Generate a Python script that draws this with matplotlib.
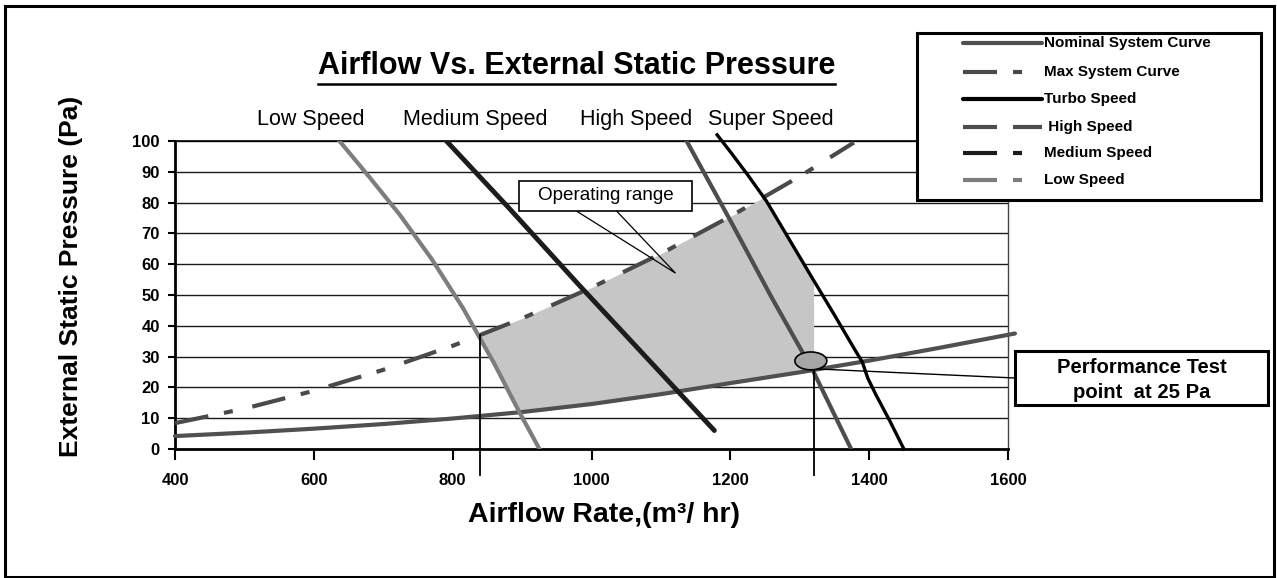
import numpy as np
import matplotlib
matplotlib.use("Agg")
import matplotlib.pyplot as plt
from matplotlib.lines import Line2D
from matplotlib.patches import Rectangle, Ellipse, Polygon

plt.rcParams['font.family'] = ['Liberation Sans', 'DejaVu Sans']
plt.rcParams['lines.scale_dashes'] = False

# fan / system curves: airflow (m3/hr) vs external static pressure (Pa)
nominal_q = [400, 500, 600, 700, 800, 900, 1000, 1100, 1200, 1300, 1400, 1500, 1610]
nominal_p = [4.2, 5.3, 6.6, 8.1, 9.9, 12.0, 14.6, 17.8, 21.4, 24.9, 28.7, 32.8, 37.5]

max_q = [400, 500, 600, 700, 800, 900, 1000, 1100, 1200, 1300, 1378]
max_p = [8.4, 13.1, 18.9, 25.7, 33.5, 42.4, 52.4, 63.4, 75.5, 88.5, 99.5]

turbo_q = [1181, 1200, 1225, 1252, 1285, 1318, 1350, 1380, 1390, 1398, 1410, 1430, 1450]
turbo_p = [102, 96.5, 89, 80.5, 68, 55.5, 43.5, 32, 28.3, 23, 17.5, 9, 0]

high_q = [1137, 1198, 1260, 1320, 1374]
high_p = [100, 75, 49, 25, 0]

medium_q = [791, 880, 983, 1080, 1177]
medium_p = [100, 78.5, 53, 29.5, 6]

low_q = [637, 680, 724, 770, 815, 860, 896, 925]
low_p = [100, 88.3, 76, 61.6, 45.7, 27.7, 12, 0]

# operating window limits and test point
op_left, op_right = 840, 1320
test_q, test_p = 1320, 25

speed_names = ['Low Speed', 'Medium Speed', 'High Speed', 'Super Speed']
speed_label_q = [596, 833, 1065, 1259]

W, H = 1277, 578


def fx(px):
    return px / W


def fy(py):
    return 1 - py / H


fig = plt.figure(figsize=(W / 100, H / 100), dpi=100)
ax = fig.add_axes([fx(175), fy(449), fx(1008) - fx(175), fy(141) - fy(449)])
ax.set_xlim(400, 1600)
ax.set_ylim(0, 100)

# horizontal grid
for g in range(10, 101, 10):
    ax.axhline(g, color='#1a1a1a', lw=1.0, zorder=1)

# shaded operating range
xs = np.linspace(op_left, op_right, 400)
lower = np.maximum(np.interp(xs, nominal_q, nominal_p),
                   np.interp(xs, low_q, low_p, left=np.inf, right=-np.inf))
upper = np.minimum(np.interp(xs, max_q, max_p),
                   np.interp(xs, turbo_q, turbo_p, left=np.inf, right=-np.inf))
ax.fill_between(xs, lower, upper, where=upper >= lower, interpolate=True,
                color='#c6c6c6', lw=0, zorder=2)

# callout wedge for the operating range box
wedge = Polygon([(978, 77.3), (1121, 57.1), (1036, 77.3)], closed=False,
                facecolor='none', edgecolor='black', lw=0.9, zorder=6)
ax.add_patch(wedge)

ax.plot(nominal_q, nominal_p, color='#505050', lw=3, solid_capstyle='round',
        zorder=4, clip_on=False)
ax.plot(max_q, max_p, color='#4a4a4a', lw=3, dashes=[24.5, 11.5, 6.5, 14.4],
        zorder=4)
ax.plot(low_q, low_p, color='#7d7d7d', lw=3, zorder=4)
ax.plot(medium_q, medium_p, color='#1c1c1c', lw=3.5, solid_capstyle='round',
        zorder=4)
ax.plot(high_q, high_p, color='#4d4d4d', lw=3, zorder=4)
ax.plot(turbo_q, turbo_p, color='black', lw=2.4, zorder=5, clip_on=False)

# drop lines at the edges of the operating window
ax.plot([op_left, op_left], [-8.4, np.interp(op_left, max_q, max_p)],
        color='black', lw=1.3, zorder=5, clip_on=False)
ax.plot([op_right, op_right], [-8.4, test_p + 1], color='black', lw=1.3,
        zorder=5, clip_on=False)

ax.add_patch(Ellipse((test_q - 4, test_p + 3.6), 46, 5.8, facecolor='#a6a6a6',
                     edgecolor='black', lw=1.2, zorder=7))
ax.annotate('', xy=(fx(1015), fy(378)), xycoords='figure fraction',
            xytext=(test_q + 4, test_p + 1), textcoords='data',
            arrowprops=dict(arrowstyle='-', lw=1.0, color='black',
                            shrinkA=0, shrinkB=0), zorder=6)

for name, q in zip(speed_names, speed_label_q):
    ax.text(q, 107, name, ha='center', va='center', fontsize=15.5,
            clip_on=False)

# axes styling
for side in ['left', 'bottom']:
    ax.spines[side].set_linewidth(2)
ax.spines['right'].set_linewidth(1)
ax.spines['right'].set_color('#444444')
ax.spines['top'].set_linewidth(1.2)
ax.set_xticks(range(400, 1601, 200))
ax.set_yticks(range(0, 101, 10))
ax.tick_params(axis='x', direction='out', length=8, width=1.5, pad=9,
               labelsize=12)
ax.tick_params(axis='y', direction='out', length=5, width=1.5, pad=6,
               labelsize=12)
for lab in ax.get_xticklabels() + ax.get_yticklabels():
    lab.set_fontweight('bold')

fig.text(fx(604), fy(515), 'Airflow Rate,(m³/ hr)', ha='center', va='center',
         fontsize=20.5, fontweight='bold')
fig.text(fx(71), fy(276), 'External Static Pressure (Pa)', ha='center',
         va='center', rotation=90, fontsize=19, fontweight='bold')

title = fig.text(fx(576.5), fy(66), 'Airflow Vs. External Static Pressure',
                 ha='center', va='center', fontsize=22, fontweight='bold')

# operating range label box
fig.patches.append(Rectangle((fx(519), fy(211)), fx(692) - fx(519),
                             fy(181) - fy(211), transform=fig.transFigure,
                             facecolor='white', edgecolor='black', lw=1.2,
                             zorder=8))
fig.text(fx(606), fy(196), 'Operating range', ha='center', va='center',
         fontsize=13.6, zorder=9)

# performance test label box
fig.patches.append(Rectangle((fx(1015), fy(405)), fx(1268) - fx(1015),
                             fy(351) - fy(405), transform=fig.transFigure,
                             facecolor='white', edgecolor='black', lw=2.2,
                             zorder=8))
fig.text(fx(1141.5), fy(380), 'Performance Test\npoint  at 25 Pa', ha='center',
         va='center', fontsize=14.6, fontweight='bold', linespacing=1.35,
         zorder=9)

# legend drawn by hand inside its own frame
fig.patches.append(Rectangle((fx(917), fy(200)), fx(1261) - fx(917),
                             fy(33) - fy(200), transform=fig.transFigure,
                             facecolor='white', edgecolor='black', lw=2.2,
                             zorder=8))
legend_rows = [
    ('Nominal System Curve', '#505050', None, 3.0),
    ('Max System Curve', '#4a4a4a', [24.5, 11.5, 6.5, 14.4], 3.0),
    ('Turbo Speed', 'black', None, 3.0),
    (' High Speed', '#4d4d4d', [24.5, 11.5], 3.0),
    ('Medium Speed', '#1c1c1c', [24.5, 11.5, 6.5, 14.4], 3.0),
    ('Low Speed', '#7d7d7d', [24.5, 11.5, 6.5, 14.4], 3.0),
]
row_y = [43, 72, 99, 127, 153, 180]
for (label, color, dash, lw), y in zip(legend_rows, row_y):
    ln = Line2D([fx(963), fx(1042)], [fy(y), fy(y)], transform=fig.transFigure,
                color=color, lw=lw, zorder=9,
                solid_capstyle='round' if dash is None else 'butt')
    if dash is not None:
        ln.set_dashes(dash)
    fig.lines.append(ln)
    fig.text(fx(1044), fy(y), label, ha='left', va='center', fontsize=11,
             fontweight='bold', zorder=9)

# outer frame
fig.patches.append(Rectangle((fx(5), fy(577)), fx(1274) - fx(5),
                             fy(6) - fy(577), transform=fig.transFigure,
                             facecolor='none', edgecolor='black', lw=2.2))

# underline the title
fig.canvas.draw()
bb = title.get_window_extent(fig.canvas.get_renderer())
uy = bb.y0 / H - 3 / H
fig.lines.append(Line2D([bb.x0 / W, bb.x1 / W], [uy, uy],
                        transform=fig.transFigure, color='black', lw=1.8))

fig.savefig('out.png', dpi=100)
